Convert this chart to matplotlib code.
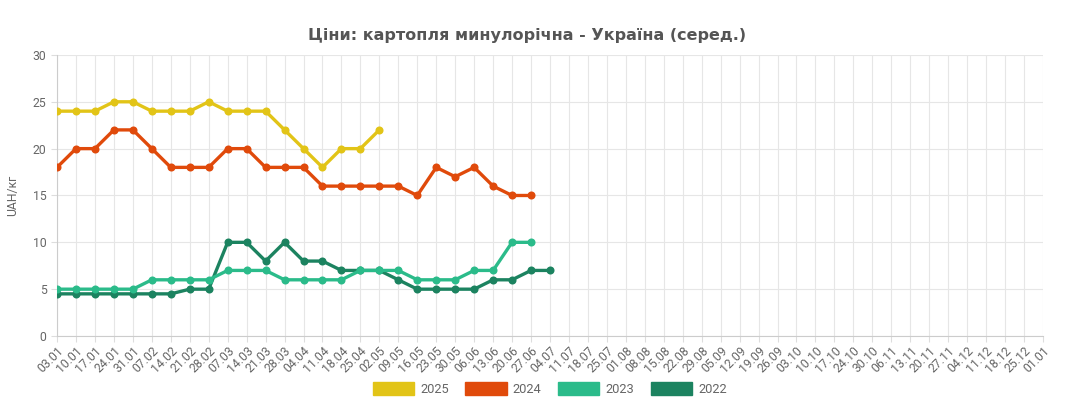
import matplotlib
matplotlib.use("Agg")
import matplotlib.pyplot as plt
from matplotlib.patches import Patch

dates = ["03.01", "10.01", "17.01", "24.01", "31.01", "07.02", "14.02", "21.02", "28.02",
         "07.03", "14.03", "21.03", "28.03", "04.04", "11.04", "18.04", "25.04", "02.05",
         "09.05", "16.05", "23.05", "30.05", "06.06", "13.06", "20.06", "27.06", "04.07",
         "11.07", "18.07", "25.07", "01.08", "08.08", "15.08", "22.08", "29.08", "05.09",
         "12.09", "19.09", "26.09", "03.10", "10.10", "17.10", "24.10", "30.10", "06.11",
         "13.11", "20.11", "27.11", "04.12", "11.12", "18.12", "25.12", "01.01"]

y2025 = [24, 24, 24, 25, 25, 24, 24, 24, 25, 24, 24, 24, 22, 20, 18, 20, 20, 22]
y2024 = [18, 20, 20, 22, 22, 20, 18, 18, 18, 20, 20, 18, 18, 18, 16, 16, 16, 16, 16, 15,
         18, 17, 18, 16, 15, 15]
y2023 = [5, 5, 5, 5, 5, 6, 6, 6, 6, 7, 7, 7, 6, 6, 6, 6, 7, 7, 7, 6, 6, 6, 7, 7, 10, 10]
y2022 = [4.5, 4.5, 4.5, 4.5, 4.5, 4.5, 4.5, 5, 5, 10, 10, 8, 10, 8, 8, 7, 7, 7, 6, 5, 5,
         5, 5, 6, 6, 7, 7]

series = [("2025", y2025, "#e2c417"), ("2024", y2024, "#e04a0b"),
          ("2023", y2023, "#2bbb8a"), ("2022", y2022, "#1c8360")]

plt.rcParams['font.family'] = ['Roboto', 'DejaVu Sans']

fig = plt.figure(figsize=(10.8, 4.07), dpi=100)
ax = fig.add_axes([0.0528, 0.1744, 0.9129, 0.6906])

for name, vals, col in reversed(series):
    ax.plot(range(len(vals)), vals, color=col, lw=2.4, marker='o', ms=5.8,
            markeredgewidth=0, solid_joinstyle='round', zorder=3)

ax.set_xlim(0, len(dates) - 1)
ax.set_ylim(0, 30)
ax.set_yticks([0, 5, 10, 15, 20, 25, 30])
ax.set_xticks(range(len(dates)))
ax.set_xticklabels(dates, rotation=45, ha='right', rotation_mode='anchor',
                   fontsize=8.8, color='#666666')
ax.tick_params(axis='y', labelsize=8.8, labelcolor='#666666', length=4, color='#dddddd')
ax.tick_params(axis='x', length=4, color='#dddddd', pad=2)
ax.grid(True, color='#e6e6e6', lw=0.8)
ax.set_axisbelow(True)
for s in ['top', 'right']:
    ax.spines[s].set_visible(False)
for s in ['left', 'bottom']:
    ax.spines[s].set_color('#cccccc')
ax.set_ylabel("UAH/кг", fontsize=8.8, color='#666666', labelpad=10)

fig.text(0.4884, 0.913, "Ціни: картопля минулорічна - Україна (серед.)",
         ha='center', va='center', fontsize=11.55, fontweight='bold', color='#555555',
         family=['DejaVu Sans'])

handles = [Patch(facecolor=c, edgecolor=c, label=n) for n, v, c in series]
fig.legend(handles=handles, loc='center', bbox_to_anchor=(0.509, 0.044), ncol=4,
           frameon=False, handlelength=3.2, handleheight=1.1, handletextpad=0.45,
           columnspacing=1.3, prop={'size': 9.3}, labelcolor='#666666')

fig.savefig("out.png", dpi=100)
